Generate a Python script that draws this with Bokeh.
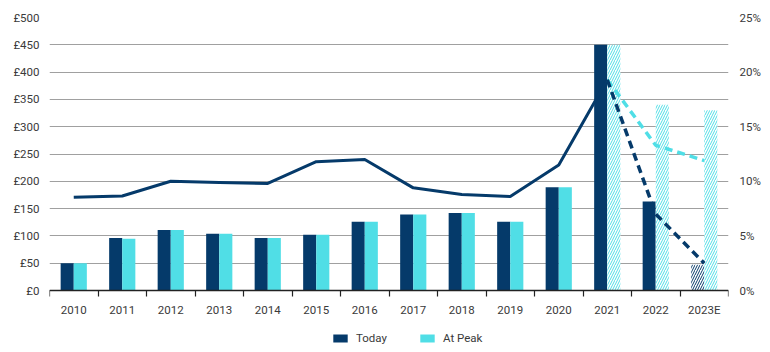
import numpy as np
from bokeh.plotting import figure
from bokeh.models import (Range1d, LinearAxis, FixedTicker, Legend, LegendItem,
                          ColumnDataSource)
from bokeh.embed import file_html
from bokeh.resources import INLINE

# ---- data ----
years = ["2010", "2011", "2012", "2013", "2014", "2015", "2016", "2017",
         "2018", "2019", "2020", "2021", "2022", "2023E"]
today = [50, 96, 111, 104, 96, 102, 126, 139, 142, 126, 189, 450, 163, 47]
at_peak = [50, 95, 111, 104, 96, 102, 126, 139, 142, 126, 189, 450, 340, 330]
yield_actual = [8.55, 8.65, 10.0, 9.9, 9.8, 11.8, 12.0, 9.4, 8.8, 8.6, 11.5, 19.3]
yield_today_fc = [19.3, 7.0, 2.5]       # 2021, 2022, 2023E
yield_peak_fc = [19.3, 13.3, 11.9]      # 2021, 2022, 2023E
left_ticks = [0, 50, 100, 150, 200, 250, 300, 350, 400, 450, 500]
right_ticks = [0, 5, 10, 15, 20, 25]

NAVY = "#053A6A"
CYAN = "#50DEE6"
FONT = "Roboto"
TXT = "#3a3a3a"

n = len(years)
centers = np.arange(n) + 0.5
dodge = 0.135
bw = 0.27

solid_today_idx = list(range(0, 13))     # 2010-2022
hatch_today_idx = [13]                   # 2023E
solid_peak_idx = list(range(0, 11))      # 2010-2020
hatch_peak_idx = [11, 12, 13]            # 2021-2023E

# plot area: value axis spans 273 px; a 62 px strip below zero holds labels + legend
PLOT_H, STRIP_H = 273, 62
left_lo = -left_ticks[-1] * STRIP_H / PLOT_H
right_lo = -right_ticks[-1] * STRIP_H / PLOT_H

def src(idx, vals, off):
    return ColumnDataSource(dict(x=[centers[i] + off for i in idx],
                                 top=[vals[i] for i in idx]))

p = figure(frame_width=679, frame_height=PLOT_H + STRIP_H, output_backend="svg",
           toolbar_location=None,
           x_range=Range1d(0, n), y_range=Range1d(left_lo, left_ticks[-1]),
           min_border_left=49, min_border_right=42, min_border_top=17,
           min_border_bottom=0, background_fill_color="white",
           border_fill_color="white", outline_line_color=None)

p.extra_y_ranges = {"pct": Range1d(right_lo, right_ticks[-1])}

# grid
p.xgrid.grid_line_color = None
p.ygrid.grid_line_color = "#a0a0a0"
p.ygrid.grid_line_width = 1
p.ygrid.ticker = FixedTicker(ticks=left_ticks)

# x axis, pinned at value 0
xa = p.xaxis[0]
xa.fixed_location = 0
xa.ticker = FixedTicker(ticks=list(centers), minor_ticks=list(range(n + 1)))
xa.major_label_overrides = {float(c): y for c, y in zip(centers, years)}
xa.major_tick_line_color = None
xa.minor_tick_line_color = "#222222"
xa.minor_tick_out = 6
xa.minor_tick_in = 0
xa.minor_tick_line_width = 1.2
xa.axis_line_color = "#222222"
xa.axis_line_width = 1.3
xa.major_label_text_font = FONT
xa.major_label_text_font_size = "11.5px"
xa.major_label_text_color = TXT
xa.major_label_standoff = 6

# left axis
ya = p.yaxis[0]
ya.ticker = FixedTicker(ticks=left_ticks)
ya.major_label_overrides = {t: "£" + str(t) for t in left_ticks}
ya.axis_line_color = None
ya.major_tick_line_color = None
ya.minor_tick_line_color = None
ya.major_label_text_font = FONT
ya.major_label_text_font_size = "11.5px"
ya.major_label_text_color = TXT
ya.major_label_standoff = 4

# right axis
ra = LinearAxis(y_range_name="pct", ticker=FixedTicker(ticks=right_ticks))
ra.major_label_overrides = {t: str(t) + "%" for t in right_ticks}
ra.axis_line_color = None
ra.major_tick_line_color = None
ra.minor_tick_line_color = None
ra.major_label_text_font = FONT
ra.major_label_text_font_size = "11.5px"
ra.major_label_text_color = TXT
ra.major_label_standoff = 5
p.add_layout(ra, "right")

# bars
r_today = p.vbar(x="x", top="top", bottom=0, width=bw,
                 source=src(solid_today_idx, today, -dodge),
                 fill_color=NAVY, line_color=None)
p.vbar(x="x", top="top", bottom=0, width=bw,
       source=src(hatch_today_idx, today, -dodge),
       fill_color="white", line_color=None,
       hatch_pattern="/", hatch_color=NAVY, hatch_scale=5, hatch_weight=1)
r_peak = p.vbar(x="x", top="top", bottom=0, width=bw,
                source=src(solid_peak_idx, at_peak, dodge),
                fill_color=CYAN, line_color=None)
p.vbar(x="x", top="top", bottom=0, width=bw,
       source=src(hatch_peak_idx, at_peak, dodge),
       fill_color="white", line_color=None,
       hatch_pattern="/", hatch_color=CYAN, hatch_scale=5, hatch_weight=1)

# lines
p.line(list(centers[:len(yield_actual)]), yield_actual, y_range_name="pct",
       line_color=NAVY, line_width=3)
fc_x = list(centers[11:14])
p.line(fc_x, yield_peak_fc, y_range_name="pct", line_color=CYAN,
       line_width=3.5, line_dash="8 5")
p.line(fc_x, yield_today_fc, y_range_name="pct", line_color=NAVY,
       line_width=3.5, line_dash="8 5")

legend = Legend(items=[LegendItem(label="Today", renderers=[r_today]),
                       LegendItem(label="At Peak", renderers=[r_peak])],
                orientation="horizontal", location=(282, 7),
                border_line_color=None, background_fill_alpha=0,
                glyph_width=18, glyph_height=10, label_standoff=7,
                spacing=31, padding=2, margin=0,
                label_text_font=FONT, label_text_font_size="11.5px",
                label_text_color=TXT)
p.add_layout(legend, "center")

open("out.html", "w").write(file_html(p, INLINE))
